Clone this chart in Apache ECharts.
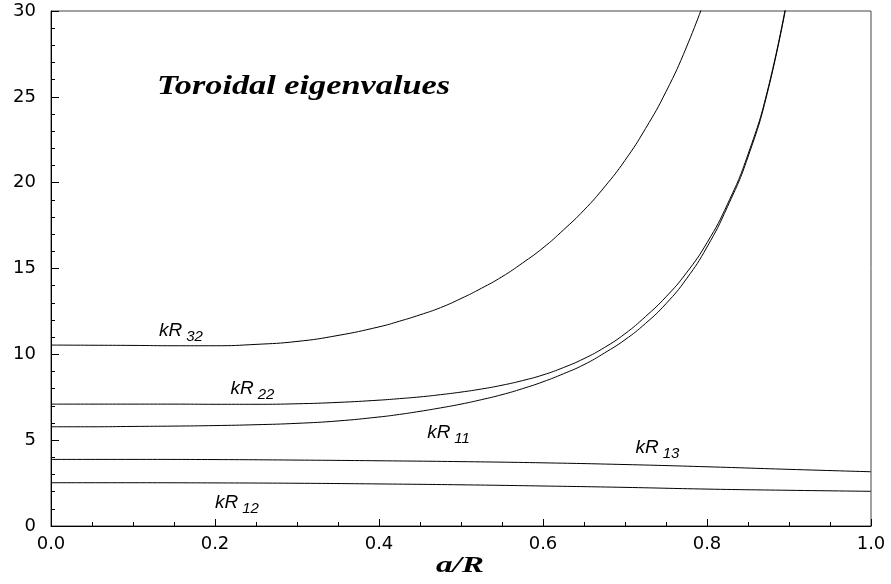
<!DOCTYPE html>
<html>
<head>
<meta charset="utf-8">
<script src="https://cdn.jsdelivr.net/npm/echarts@6/dist/echarts.min.js"></script>
<style>
html,body{margin:0;padding:0;background:#fff;}
#chart{width:891px;height:584px;}
</style>
</head>
<body>
<div id="chart"></div>
<script>
// ---- data ----
var xTickLabels = ['0.0', '0.2', '0.4', '0.6', '0.8', '1.0'];
var yTickLabels = ['0', '5', '10', '15', '20', '25', '30'];

var kR32X = [0, 0.05, 0.1, 0.15, 0.2, 0.25, 0.3, 0.35, 0.4, 0.425, 0.45, 0.475, 0.5, 0.525, 0.55, 0.575, 0.6, 0.625, 0.65, 0.675, 0.7, 0.725, 0.75, 0.775, 0.8];
var kR32Y = [10.54, 10.53, 10.52, 10.5, 10.5, 10.58, 10.75, 11.1, 11.6, 11.93, 12.3, 12.72, 13.25, 13.85, 14.52, 15.32, 16.2, 17.25, 18.4, 19.75, 21.3, 23.15, 25.3, 27.9, 31.0];

var kR22X = [0, 0.05, 0.1, 0.15, 0.2, 0.25, 0.3, 0.35, 0.4, 0.425, 0.45, 0.475, 0.5, 0.525, 0.55, 0.575, 0.6, 0.625, 0.65, 0.675, 0.7, 0.725, 0.75, 0.775, 0.8, 0.825, 0.85, 0.875, 0.9];
var kR22Y = [7.1, 7.1, 7.1, 7.1, 7.09, 7.09, 7.12, 7.2, 7.33, 7.42, 7.52, 7.65, 7.8, 7.98, 8.2, 8.47, 8.8, 9.23, 9.75, 10.4, 11.2, 12.2, 13.35, 14.75, 16.5, 18.75, 21.65, 25.6, 31.3];

var kR11X = [0, 0.05, 0.1, 0.15, 0.2, 0.25, 0.3, 0.35, 0.4, 0.425, 0.45, 0.475, 0.5, 0.525, 0.55, 0.575, 0.6, 0.625, 0.65, 0.675, 0.7, 0.725, 0.75, 0.775, 0.8, 0.825, 0.85, 0.875, 0.9];
var kR11Y = [5.78, 5.78, 5.8, 5.82, 5.85, 5.9, 5.98, 6.12, 6.35, 6.5, 6.68, 6.88, 7.1, 7.36, 7.65, 8.0, 8.4, 8.87, 9.4, 10.08, 10.85, 11.8, 12.95, 14.4, 16.25, 18.6, 21.5, 25.5, 31.2];

var kR13X = [0, 0.1, 0.2, 0.3, 0.4, 0.5, 0.6, 0.7, 0.8, 0.9, 1.0];
var kR13Y = [3.88, 3.88, 3.87, 3.84, 3.8, 3.75, 3.68, 3.58, 3.45, 3.3, 3.16];

var kR12X = [0, 0.1, 0.2, 0.3, 0.4, 0.5, 0.6, 0.7, 0.8, 0.9, 1.0];
var kR12Y = [2.52, 2.52, 2.51, 2.49, 2.45, 2.4, 2.33, 2.25, 2.15, 2.08, 2.02];

var seriesNames = ['kR32', 'kR22', 'kR11', 'kR13', 'kR12'];
var seriesSubs = ['32', '22', '11', '13', '12'];
var titleText = 'Toroidal eigenvalues';
var xAxisTitle = 'a/R';

// ---- chart ----
function pairs(xs, ys) {
  return xs.map(function (x, i) { return [x, ys[i]]; });
}

var sans = 'DejaVu Sans, Liberation Sans, Arial, sans-serif';
var labelSans = 'Liberation Sans, Arial, sans-serif';
var serif = 'Liberation Serif, Times New Roman, serif';

var labelRich = {
  k: { fontSize: 19, fontStyle: 'italic', fontFamily: labelSans, color: '#000', lineHeight: 22 },
  s: { fontSize: 15, fontStyle: 'italic', fontFamily: labelSans, color: '#000', lineHeight: 22, padding: [12, 0, 0, 4] }
};

function makeSeries(name, xs, ys, sub, labelCoord) {
  return {
    name: name,
    type: 'line',
    data: pairs(xs, ys),
    showSymbol: false,
    symbol: 'none',
    smooth: 0.5,
    clip: true,
    lineStyle: { color: '#000', width: 1 },
    silent: true,
    animation: false,
    markPoint: {
      symbol: 'circle',
      symbolSize: 1,
      itemStyle: { color: 'rgba(0,0,0,0)' },
      silent: true,
      animation: false,
      label: {
        show: true,
        position: 'inside',
        formatter: '{k|kR}{s|' + sub + '}',
        rich: labelRich
      },
      data: [{ coord: labelCoord }]
    }
  };
}

var chart = echarts.init(document.getElementById('chart'), null, { renderer: 'canvas' });

var option = {
  backgroundColor: '#fff',
  animation: false,
  graphic: [
    {
      type: 'text',
      x: 157, y: 87,
      scaleX: 1.27,
      silent: true,
      style: {
        text: titleText,
        font: 'italic bold 27px ' + serif,
        fill: '#000',
        textAlign: 'left',
        textVerticalAlign: 'middle'
      }
    },
    {
      type: 'text',
      x: 460, y: 566,
      scaleX: 1.45,
      silent: true,
      style: {
        text: xAxisTitle,
        font: 'italic bold 23px ' + serif,
        fill: '#000',
        textAlign: 'center',
        textVerticalAlign: 'middle'
      }
    }
  ],
  grid: {
    left: 51, right: 20, top: 11, bottom: 58,
    show: true, borderColor: '#444', borderWidth: 1, backgroundColor: 'transparent'
  },
  xAxis: {
    type: 'value',
    min: 0, max: 1, interval: 0.2,
    axisLine: { show: true, lineStyle: { color: '#000', width: 1 } },
    axisTick: { show: true, inside: true, length: 7, lineStyle: { color: '#000' } },
    minorTick: { show: true, splitNumber: 4, length: 4, lineStyle: { color: '#000' } },
    splitLine: { show: false },
    axisLabel: {
      margin: 9, fontFamily: sans, fontSize: 18, color: '#000',
      formatter: function (v) { return xTickLabels[Math.round(v / 0.2)]; }
    }
  },
  yAxis: {
    type: 'value',
    min: 0, max: 30, interval: 5,
    axisLine: { show: true, lineStyle: { color: '#000', width: 1 } },
    axisTick: { show: true, inside: true, length: 8, lineStyle: { color: '#000' } },
    minorTick: { show: true, splitNumber: 5, length: 4, lineStyle: { color: '#000' } },
    splitLine: { show: false },
    axisLabel: {
      margin: 15, fontFamily: sans, fontSize: 18, color: '#000',
      formatter: function (v) { return yTickLabels[Math.round(v / 5)]; }
    }
  },
  series: [
    makeSeries(seriesNames[0], kR32X, kR32Y, seriesSubs[0], [0.1585, 11.36]),
    makeSeries(seriesNames[1], kR22X, kR22Y, seriesSubs[1], [0.2457, 7.98]),
    makeSeries(seriesNames[2], kR11X, kR11Y, seriesSubs[2], [0.4848, 5.42]),
    makeSeries(seriesNames[3], kR13X, kR13Y, seriesSubs[3], [0.7396, 4.54]),
    makeSeries(seriesNames[4], kR12X, kR12Y, seriesSubs[4], [0.2268, 1.34])
  ]
};
chart.setOption(option);
</script>
</body>
</html>
